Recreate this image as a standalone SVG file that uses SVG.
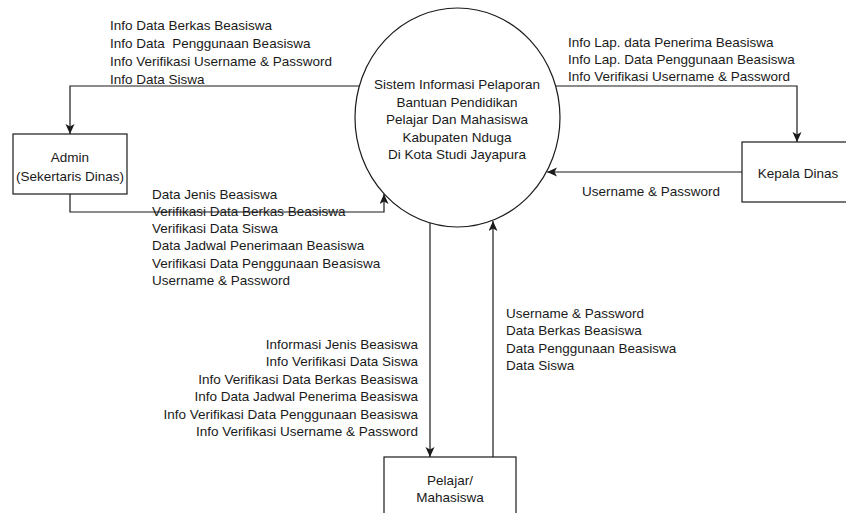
<svg xmlns="http://www.w3.org/2000/svg" width="846" height="513" viewBox="0 0 846 513">
<style>
  text { font-family: "Liberation Sans", Arial, sans-serif; font-size: 13.5px; fill: #1a1a1a; }
  .mid { text-anchor: middle; }
  .end { text-anchor: end; }
  .box { fill: #ffffff; stroke: #1a1a1a; stroke-width: 1.2; }
  .conn { fill: none; stroke: #1a1a1a; stroke-width: 1.2; marker-end: url(#arrow); }
</style>
<defs>
  <marker id="arrow" markerUnits="userSpaceOnUse" markerWidth="12" markerHeight="10" refX="10" refY="4.5" orient="auto">
    <path d="M0,0 L10,4.5 L0,9 L2.5,4.5 z" fill="#1a1a1a"/>
  </marker>
</defs>
<rect width="846" height="513" fill="#ffffff"/>

<g id="connectors">
  <path class="conn" d="M359,86 H70 V134"/>
  <path class="conn" d="M70,194 V212 H384 V194"/>
  <path class="conn" d="M556,86 H797 V142"/>
  <path class="conn" d="M742,172 H547"/>
  <path class="conn" d="M430,223 V457"/>
  <path class="conn" d="M493,457 V221"/>
</g>

<g id="process">
  <ellipse cx="457.5" cy="117.5" rx="102.5" ry="109.5" class="box"/>
  <text class="mid" x="457" y="89">Sistem Informasi Pelaporan</text>
  <text class="mid" x="457" y="106.5">Bantuan Pendidikan</text>
  <text class="mid" x="457" y="124">Pelajar Dan Mahasiswa</text>
  <text class="mid" x="457" y="141.5">Kabupaten Nduga</text>
  <text class="mid" x="457" y="159">Di Kota Studi Jayapura</text>
</g>

<g id="admin">
  <rect x="13" y="134" width="114" height="60" class="box"/>
  <text class="mid" x="70" y="162">Admin</text>
  <text class="mid" x="70" y="181">(Sekertaris Dinas)</text>
</g>

<g id="kepala-dinas">
  <rect x="742" y="142" width="112" height="60" class="box"/>
  <text class="mid" x="798" y="178">Kepala Dinas</text>
</g>

<g id="pelajar">
  <rect x="384" y="457" width="132" height="70" class="box"/>
  <text class="mid" x="450" y="485">Pelajar/</text>
  <text class="mid" x="450" y="502">Mahasiswa</text>
</g>

<g id="labels">
  <text x="110" y="30">Info Data Berkas Beasiswa</text>
  <text x="110" y="48" style="white-space:pre">Info Data  Penggunaan Beasiswa</text>
  <text x="110" y="66">Info Verifikasi Username &amp; Password</text>
  <text x="110" y="84">Info Data Siswa</text>

  <text x="152" y="198.5">Data Jenis Beasiswa</text>
  <text x="152" y="216">Verifikasi Data Berkas Beasiswa</text>
  <text x="152" y="233">Verifikasi Data Siswa</text>
  <text x="152" y="250.3">Data Jadwal Penerimaan Beasiswa</text>
  <text x="152" y="267.6">Verifikasi Data Penggunaan Beasiswa</text>
  <text x="152" y="284.5">Username &amp; Password</text>

  <text x="568" y="47">Info Lap. data Penerima Beasiswa</text>
  <text x="568" y="64">Info Lap. Data Penggunaan Beasiswa</text>
  <text x="568" y="81">Info Verifikasi Username &amp; Password</text>

  <text x="582" y="196">Username &amp; Password</text>

  <text class="end" x="418" y="349">Informasi Jenis Beasiswa</text>
  <text class="end" x="418" y="366.4">Info Verifikasi Data Siswa</text>
  <text class="end" x="418" y="383.8">Info Verifikasi Data Berkas Beasiswa</text>
  <text class="end" x="418" y="401.2">Info Data Jadwal Penerima Beasiswa</text>
  <text class="end" x="418" y="418.6">Info Verifikasi Data Penggunaan Beasiswa</text>
  <text class="end" x="418" y="436">Info Verifikasi Username &amp; Password</text>

  <text x="506" y="317.5">Username &amp; Password</text>
  <text x="506" y="335">Data Berkas Beasiswa</text>
  <text x="506" y="352.5">Data Penggunaan Beasiswa</text>
  <text x="506" y="370">Data Siswa</text>
</g>
</svg>
